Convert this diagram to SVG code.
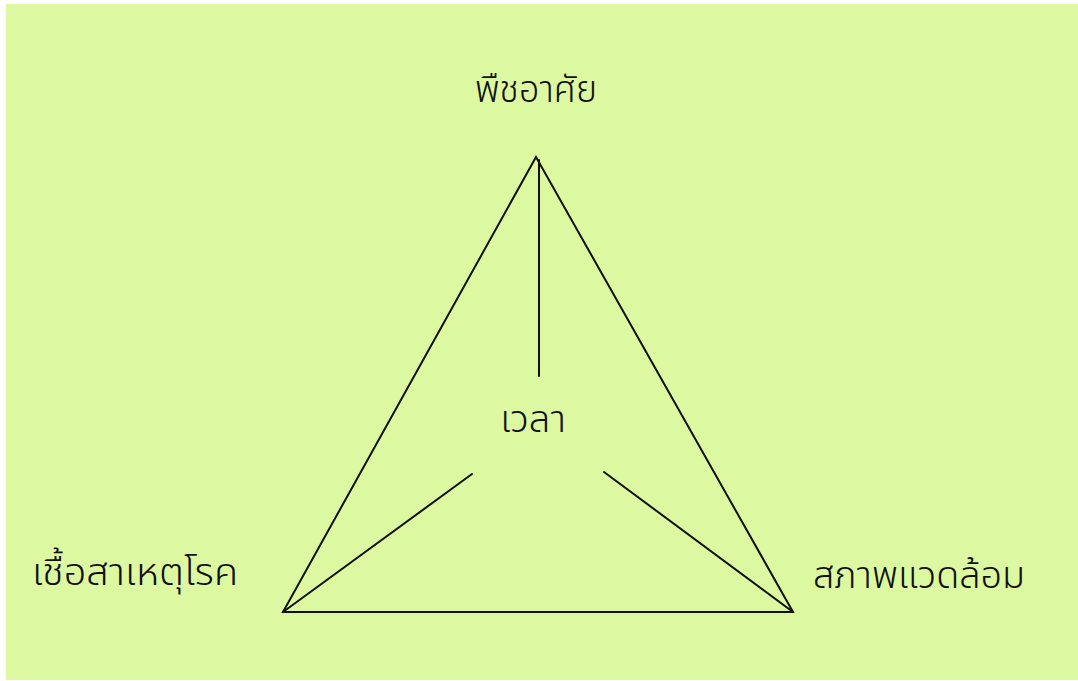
<svg xmlns="http://www.w3.org/2000/svg" width="1078" height="681" viewBox="0 0 1078 681">
<style>
.lbl{font-family:"Noto Sans Thai","Noto Sans","Liberation Sans",sans-serif;font-size:38px;fill:#111;font-weight:300}
.ln{stroke:#111;stroke-width:2;fill:none;stroke-linecap:round}
</style>
<rect width="1078" height="681" fill="#ffffff"/>
<rect x="6" y="4" width="1072" height="676" fill="#dcf8a0"/>
<g id="connectors">
<polygon class="ln" points="536,157 283,612 793,612" stroke-linejoin="miter"/>
<line class="ln" x1="539" y1="160" x2="539" y2="376"/>
<line class="ln" x1="283" y1="612" x2="472" y2="474"/>
<line class="ln" x1="793" y1="612" x2="604" y2="472"/>
</g>
<g id="host"><text class="lbl" x="475" y="102" textLength="122" lengthAdjust="spacingAndGlyphs">พืชอาศัย</text></g>
<g id="time"><text class="lbl" x="533" y="432" text-anchor="middle">เวลา</text></g>
<g id="pathogen"><text class="lbl" x="32" y="585" textLength="206" lengthAdjust="spacingAndGlyphs">เชื้อสาเหตุโรค</text></g>
<g id="environment"><text class="lbl" x="813" y="588" textLength="212" lengthAdjust="spacingAndGlyphs">สภาพแวดล้อม</text></g>
</svg>
